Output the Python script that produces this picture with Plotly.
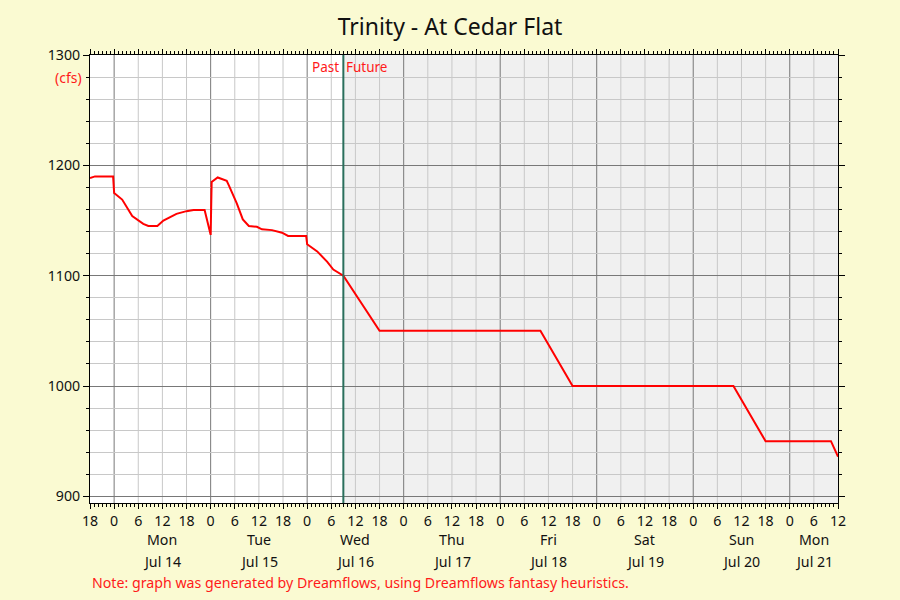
import plotly.graph_objects as go
import pandas as pd

# ---- data ----
times = [
    "2025-07-13 18:00", "2025-07-13 19:15", "2025-07-13 23:45",
    "2025-07-14 00:00", "2025-07-14 02:00", "2025-07-14 04:30", "2025-07-14 07:15",
    "2025-07-14 08:30", "2025-07-14 10:45", "2025-07-14 12:15", "2025-07-14 15:30",
    "2025-07-14 18:00", "2025-07-14 19:45", "2025-07-14 22:30",
    "2025-07-15 00:00", "2025-07-15 00:15", "2025-07-15 01:45", "2025-07-15 04:00",
    "2025-07-15 04:30", "2025-07-15 06:30", "2025-07-15 08:00", "2025-07-15 09:30",
    "2025-07-15 11:30", "2025-07-15 12:45", "2025-07-15 15:15", "2025-07-15 17:45",
    "2025-07-15 19:15", "2025-07-15 23:45",
    "2025-07-16 00:00", "2025-07-16 02:30", "2025-07-16 05:00", "2025-07-16 06:30",
    "2025-07-16 09:00", "2025-07-16 18:00",
    "2025-07-18 10:00", "2025-07-18 18:00",
    "2025-07-20 10:00", "2025-07-20 18:00",
    "2025-07-21 10:15", "2025-07-21 12:00",
]
flow_cfs = [
    1188.5, 1190, 1190,
    1175, 1169, 1154, 1147,
    1145, 1145, 1150, 1156,
    1158.5, 1159.5, 1159.5,
    1137, 1185, 1189, 1186,
    1182, 1165.5, 1151, 1145,
    1144.3, 1142, 1141.3, 1139,
    1136, 1136,
    1128.5, 1122, 1112.5, 1105.6,
    1100, 1050,
    1050, 1000,
    1000, 950,
    950, 936,
]
now_time = "2025-07-16 09:00"
x_start = "2025-07-13 18:00"
x_end = "2025-07-21 12:00"
y_range = [894, 1300]
y_major = [900, 1000, 1100, 1200, 1300]
title_text = "Trinity - At Cedar Flat"
unit_label = "(cfs)"
note_text = "Note: graph was generated by Dreamflows, using Dreamflows fantasy heuristics."

# ---- axis helpers ----
hour_ticks = pd.date_range(x_start, x_end, freq="6h")
hour_text = [str(t.hour) for t in hour_ticks]
days = pd.date_range("2025-07-14", "2025-07-21", freq="D")
xs = pd.Timestamp(x_start)
xe = pd.Timestamp(x_end)
# light 6-hour grid only where there is no day boundary
light_grid = [t for t in hour_ticks if t.hour != 0]

FONT = "Noto Sans"
TXT = "#111111"
RED = "#ff1a1a"

fig = go.Figure()
fig.add_trace(go.Scatter(
    x=pd.to_datetime(times), y=flow_cfs, mode="lines",
    line=dict(color="#ff0000", width=2), hoverinfo="skip", showlegend=False,
))

shapes = []
# future shading
shapes.append(dict(type="rect", xref="x", yref="paper", x0=now_time, x1=x_end,
                   y0=0, y1=1, fillcolor="#f0f0f0", line_width=0, layer="below"))
# 6-hour light grid lines
for t in light_grid:
    if xs < t < xe:
        shapes.append(dict(type="line", xref="x", yref="paper", x0=t, x1=t, y0=0, y1=1,
                           line=dict(color="#c8c8c8", width=1), layer="below"))
# day boundary grid lines
for d in days:
    if xs < d < xe:
        shapes.append(dict(type="line", xref="x", yref="paper", x0=d, x1=d, y0=0, y1=1,
                           line=dict(color="#787878", width=1), layer="below"))
# now line
shapes.append(dict(type="line", xref="x", yref="paper", x0=now_time, x1=now_time,
                   y0=0, y1=1, line=dict(color="#2a6f5c", width=2), layer="above"))

annotations = [
    dict(text="Past", x=now_time, y=1.0, xref="x", yref="paper", xanchor="right",
         yanchor="top", xshift=-2, yshift=-1, showarrow=False,
         font=dict(family=FONT, size=13.5, color=RED)),
    dict(text="Future", x=now_time, y=1.0, xref="x", yref="paper", xanchor="left",
         yanchor="top", xshift=1, yshift=-1, showarrow=False,
         font=dict(family=FONT, size=13.5, color=RED)),
    dict(text=unit_label, x=0, y=1280, xref="paper", yref="y", xanchor="right",
         yanchor="middle", xshift=-6, showarrow=False,
         font=dict(family=FONT, size=14, color=RED)),
    dict(text=note_text, x=0, y=-0.177, xref="paper", yref="paper", xanchor="left",
         yanchor="middle", showarrow=False,
         font=dict(family=FONT, size=14.2, color=RED)),
]
for d in pd.date_range("2025-07-13", "2025-07-21", freq="D"):
    a = max(d, xs)
    b = min(d + pd.Timedelta(days=1), xe)
    if (b - a) < pd.Timedelta(hours=12):
        continue
    c = a + (b - a) / 2
    annotations.append(dict(text=d.strftime("%a"), x=c, y=-0.081, xref="x", yref="paper",
                            xanchor="center", yanchor="middle", showarrow=False,
                            font=dict(family=FONT, size=14.2, color=TXT)))
    annotations.append(dict(text=d.strftime("%b ") + str(d.day), x=c, y=-0.130, xref="x",
                            yref="paper", xanchor="center", yanchor="middle",
                            showarrow=False, font=dict(family=FONT, size=14.2, color=TXT)))

fig.update_layout(
    width=900, height=600,
    margin=dict(l=90, r=62, t=55, b=97),
    paper_bgcolor="#fafad2", plot_bgcolor="rgba(0,0,0,0)",
    title=dict(text=title_text, x=0.5, xanchor="center", y=0.955, yanchor="middle",
               font=dict(family=FONT, size=23, color=TXT)),
    font=dict(family=FONT, size=14, color=TXT),
    shapes=[dict(type="rect", xref="paper", yref="paper", x0=0, x1=1, y0=0, y1=1,
                 fillcolor="#ffffff", line_width=0, layer="below")] + shapes,
    annotations=annotations,
    xaxis=dict(
        type="date", range=[x_start, x_end],
        tickmode="array", tickvals=hour_ticks, ticktext=hour_text,
        ticks="outside", ticklen=5, tickcolor="#000000",
        showgrid=False,
        showline=True, linecolor="#000000", linewidth=1, mirror="ticks",
        minor=dict(tickmode="linear", tick0=x_start, dtick=3600000, ticks="outside",
                   ticklen=3, tickcolor="#000000", showgrid=False),
        tickfont=dict(family=FONT, size=14.2, color=TXT), zeroline=False,
    ),
    yaxis=dict(
        range=y_range, tickmode="array", tickvals=y_major,
        ticks="outside", ticklen=6, tickcolor="#000000",
        showgrid=True, gridcolor="#787878", gridwidth=1,
        showline=True, linecolor="#000000", linewidth=1, mirror="ticks",
        minor=dict(tickmode="linear", tick0=900, dtick=20, ticks="outside", ticklen=3,
                   tickcolor="#000000", showgrid=True, gridcolor="#c8c8c8", gridwidth=1),
        tickfont=dict(family=FONT, size=14.2, color=TXT), zeroline=False,
    ),
)

fig.write_html("out.html", config={"displayModeBar": False},
               post_script="document.body.style.margin='0';")
